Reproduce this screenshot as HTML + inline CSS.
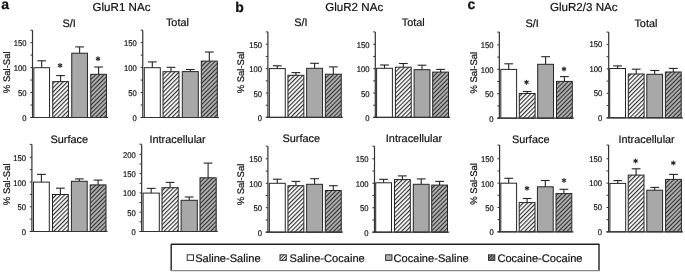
<!DOCTYPE html>
<html><head><meta charset="utf-8"><title>GluR NAc</title>
<style>
html,body{margin:0;padding:0;background:#fff;}
body{width:685px;height:273px;overflow:hidden;}
svg{display:block;filter:grayscale(1) blur(0.3px);}
text{font-family:"Liberation Sans",sans-serif;fill:#111;stroke:#111;stroke-width:0.2px;text-rendering:geometricPrecision;}
.tk{font-size:8.3px;text-anchor:end;}
.st{font-size:11px;text-anchor:middle;}
.pt{font-size:11.6px;}
.sub{font-size:10.9px;text-anchor:middle;}
.yl{font-size:9.5px;text-anchor:middle;}
.pl{font-size:14px;font-weight:bold;}
.lg{font-size:11.1px;}
</style></head>
<body>
<svg width="685" height="273" viewBox="0 0 685 273">
<defs>
<pattern id="h1" patternUnits="userSpaceOnUse" width="3" height="4" patternTransform="rotate(45)">
<rect width="3" height="4" fill="#fff"/><rect width="1.15" height="4" fill="#303030"/></pattern>
<pattern id="h2" patternUnits="userSpaceOnUse" width="3" height="4" patternTransform="rotate(45)">
<rect width="3" height="4" fill="#acacac"/><rect width="1.0" height="4" fill="#303030"/></pattern>
<pattern id="h1s" patternUnits="userSpaceOnUse" width="2.2" height="2.2" patternTransform="rotate(45)">
<rect width="2.2" height="2.2" fill="#fff"/><rect width="0.9" height="2.2" fill="#333"/></pattern>
<pattern id="h2s" patternUnits="userSpaceOnUse" width="2.2" height="2.2" patternTransform="rotate(45)">
<rect width="2.2" height="2.2" fill="#999"/><rect width="0.9" height="2.2" fill="#222"/></pattern>
</defs>
<rect width="685" height="273" fill="#fff"/>
<line x1="41.7" y1="67.7" x2="41.7" y2="60.8" stroke="#252525" stroke-width="1.1"/>
<line x1="37.3" y1="60.8" x2="46.1" y2="60.8" stroke="#252525" stroke-width="1.1"/>
<rect x="33.85" y="67.7" width="15.7" height="49.8" fill="#ffffff" stroke="#252525" stroke-width="1.0"/>
<line x1="60.6" y1="81.6" x2="60.6" y2="75.6" stroke="#252525" stroke-width="1.1"/>
<line x1="56.2" y1="75.6" x2="65" y2="75.6" stroke="#252525" stroke-width="1.1"/>
<rect x="52.75" y="81.6" width="15.7" height="35.9" fill="url(#h1)" stroke="#252525" stroke-width="1.0"/>
<line x1="79.6" y1="53.2" x2="79.6" y2="46.9" stroke="#252525" stroke-width="1.1"/>
<line x1="75.2" y1="46.9" x2="84" y2="46.9" stroke="#252525" stroke-width="1.1"/>
<rect x="71.75" y="53.2" width="15.7" height="64.3" fill="#a8a8a8" stroke="#252525" stroke-width="1.0"/>
<line x1="98.6" y1="74.3" x2="98.6" y2="67" stroke="#252525" stroke-width="1.1"/>
<line x1="94.2" y1="67" x2="103" y2="67" stroke="#252525" stroke-width="1.1"/>
<rect x="90.75" y="74.3" width="15.7" height="43.2" fill="url(#h2)" stroke="#252525" stroke-width="1.0"/>
<line x1="32.5" y1="30.2" x2="32.5" y2="118" stroke="#333" stroke-width="1.2"/>
<line x1="30.4" y1="117.5" x2="108.05" y2="117.5" stroke="#333" stroke-width="1.2"/>
<line x1="30.4" y1="117.5" x2="32.5" y2="117.5" stroke="#333" stroke-width="1"/>
<text transform="translate(26.6,121) scale(0.92,1)" class="tk">0</text>
<line x1="30.4" y1="105.02" x2="32.5" y2="105.02" stroke="#333" stroke-width="1"/>
<line x1="30.4" y1="92.53" x2="32.5" y2="92.53" stroke="#333" stroke-width="1"/>
<text transform="translate(26.6,96.03) scale(0.92,1)" class="tk">50</text>
<line x1="30.4" y1="80.05" x2="32.5" y2="80.05" stroke="#333" stroke-width="1"/>
<line x1="30.4" y1="67.57" x2="32.5" y2="67.57" stroke="#333" stroke-width="1"/>
<text transform="translate(26.6,71.07) scale(0.92,1)" class="tk">100</text>
<line x1="30.4" y1="55.09" x2="32.5" y2="55.09" stroke="#333" stroke-width="1"/>
<line x1="30.4" y1="42.6" x2="32.5" y2="42.6" stroke="#333" stroke-width="1"/>
<text transform="translate(26.6,46.1) scale(0.92,1)" class="tk">150</text>
<line x1="30.4" y1="30.2" x2="32.5" y2="30.2" stroke="#333" stroke-width="1"/>
<g transform="translate(60.10,65.50)" fill="#262626"><rect x="-0.525" y="-2.45" width="1.05" height="4.90" transform="rotate(0)"/><rect x="-0.525" y="-2.45" width="1.05" height="4.90" transform="rotate(60)"/><rect x="-0.525" y="-2.45" width="1.05" height="4.90" transform="rotate(-60)"/></g>
<g transform="translate(98.00,58.70)" fill="#262626"><rect x="-0.525" y="-2.45" width="1.05" height="4.90" transform="rotate(0)"/><rect x="-0.525" y="-2.45" width="1.05" height="4.90" transform="rotate(60)"/><rect x="-0.525" y="-2.45" width="1.05" height="4.90" transform="rotate(-60)"/></g>
<line x1="152.3" y1="67.7" x2="152.3" y2="61.9" stroke="#252525" stroke-width="1.1"/>
<line x1="147.9" y1="61.9" x2="156.7" y2="61.9" stroke="#252525" stroke-width="1.1"/>
<rect x="144.3" y="67.7" width="16" height="49.8" fill="#ffffff" stroke="#252525" stroke-width="1.0"/>
<line x1="171" y1="71.7" x2="171" y2="67.3" stroke="#252525" stroke-width="1.1"/>
<line x1="166.6" y1="67.3" x2="175.4" y2="67.3" stroke="#252525" stroke-width="1.1"/>
<rect x="163" y="71.7" width="16" height="45.8" fill="url(#h1)" stroke="#252525" stroke-width="1.0"/>
<line x1="190.3" y1="71.6" x2="190.3" y2="69.5" stroke="#252525" stroke-width="1.1"/>
<line x1="185.9" y1="69.5" x2="194.7" y2="69.5" stroke="#252525" stroke-width="1.1"/>
<rect x="182.3" y="71.6" width="16" height="45.9" fill="#a8a8a8" stroke="#252525" stroke-width="1.0"/>
<line x1="209.3" y1="61.1" x2="209.3" y2="52" stroke="#252525" stroke-width="1.1"/>
<line x1="204.9" y1="52" x2="213.7" y2="52" stroke="#252525" stroke-width="1.1"/>
<rect x="201.3" y="61.1" width="16" height="56.4" fill="url(#h2)" stroke="#252525" stroke-width="1.0"/>
<line x1="142.75" y1="30.2" x2="142.75" y2="118" stroke="#333" stroke-width="1.2"/>
<line x1="140.65" y1="117.5" x2="218.9" y2="117.5" stroke="#333" stroke-width="1.2"/>
<line x1="140.65" y1="117.5" x2="142.75" y2="117.5" stroke="#333" stroke-width="1"/>
<text transform="translate(136.85,121) scale(0.92,1)" class="tk">0</text>
<line x1="140.65" y1="105.02" x2="142.75" y2="105.02" stroke="#333" stroke-width="1"/>
<line x1="140.65" y1="92.53" x2="142.75" y2="92.53" stroke="#333" stroke-width="1"/>
<text transform="translate(136.85,96.03) scale(0.92,1)" class="tk">50</text>
<line x1="140.65" y1="80.05" x2="142.75" y2="80.05" stroke="#333" stroke-width="1"/>
<line x1="140.65" y1="67.57" x2="142.75" y2="67.57" stroke="#333" stroke-width="1"/>
<text transform="translate(136.85,71.07) scale(0.92,1)" class="tk">100</text>
<line x1="140.65" y1="55.09" x2="142.75" y2="55.09" stroke="#333" stroke-width="1"/>
<line x1="140.65" y1="42.6" x2="142.75" y2="42.6" stroke="#333" stroke-width="1"/>
<text transform="translate(136.85,46.1) scale(0.92,1)" class="tk">150</text>
<line x1="140.65" y1="30.2" x2="142.75" y2="30.2" stroke="#333" stroke-width="1"/>
<line x1="41.4" y1="182.1" x2="41.4" y2="174.4" stroke="#252525" stroke-width="1.1"/>
<line x1="37" y1="174.4" x2="45.8" y2="174.4" stroke="#252525" stroke-width="1.1"/>
<rect x="33.5" y="182.1" width="15.8" height="49.4" fill="#ffffff" stroke="#252525" stroke-width="1.0"/>
<line x1="60.4" y1="194.5" x2="60.4" y2="188.2" stroke="#252525" stroke-width="1.1"/>
<line x1="56" y1="188.2" x2="64.8" y2="188.2" stroke="#252525" stroke-width="1.1"/>
<rect x="52.5" y="194.5" width="15.8" height="37" fill="url(#h1)" stroke="#252525" stroke-width="1.0"/>
<line x1="79.3" y1="181.3" x2="79.3" y2="178.9" stroke="#252525" stroke-width="1.1"/>
<line x1="74.9" y1="178.9" x2="83.7" y2="178.9" stroke="#252525" stroke-width="1.1"/>
<rect x="71.4" y="181.3" width="15.8" height="50.2" fill="#a8a8a8" stroke="#252525" stroke-width="1.0"/>
<line x1="98.1" y1="184.9" x2="98.1" y2="180.1" stroke="#252525" stroke-width="1.1"/>
<line x1="93.7" y1="180.1" x2="102.5" y2="180.1" stroke="#252525" stroke-width="1.1"/>
<rect x="90.2" y="184.9" width="15.8" height="46.6" fill="url(#h2)" stroke="#252525" stroke-width="1.0"/>
<line x1="31.9" y1="144.4" x2="31.9" y2="232" stroke="#333" stroke-width="1.2"/>
<line x1="29.8" y1="231.5" x2="107.6" y2="231.5" stroke="#333" stroke-width="1.2"/>
<line x1="29.8" y1="231.5" x2="31.9" y2="231.5" stroke="#333" stroke-width="1"/>
<text transform="translate(26,235) scale(0.92,1)" class="tk">0</text>
<line x1="29.8" y1="219.13" x2="31.9" y2="219.13" stroke="#333" stroke-width="1"/>
<line x1="29.8" y1="206.76" x2="31.9" y2="206.76" stroke="#333" stroke-width="1"/>
<text transform="translate(26,210.26) scale(0.92,1)" class="tk">50</text>
<line x1="29.8" y1="194.4" x2="31.9" y2="194.4" stroke="#333" stroke-width="1"/>
<line x1="29.8" y1="182.03" x2="31.9" y2="182.03" stroke="#333" stroke-width="1"/>
<text transform="translate(26,185.53) scale(0.92,1)" class="tk">100</text>
<line x1="29.8" y1="169.66" x2="31.9" y2="169.66" stroke="#333" stroke-width="1"/>
<line x1="29.8" y1="157.3" x2="31.9" y2="157.3" stroke="#333" stroke-width="1"/>
<text transform="translate(26,160.8) scale(0.92,1)" class="tk">150</text>
<line x1="29.8" y1="144.4" x2="31.9" y2="144.4" stroke="#333" stroke-width="1"/>
<line x1="151.2" y1="193.1" x2="151.2" y2="188.4" stroke="#252525" stroke-width="1.1"/>
<line x1="146.8" y1="188.4" x2="155.6" y2="188.4" stroke="#252525" stroke-width="1.1"/>
<rect x="143.1" y="193.1" width="16.2" height="38.4" fill="#ffffff" stroke="#252525" stroke-width="1.0"/>
<line x1="170.1" y1="187.7" x2="170.1" y2="182.4" stroke="#252525" stroke-width="1.1"/>
<line x1="165.7" y1="182.4" x2="174.5" y2="182.4" stroke="#252525" stroke-width="1.1"/>
<rect x="162" y="187.7" width="16.2" height="43.8" fill="url(#h1)" stroke="#252525" stroke-width="1.0"/>
<line x1="189.2" y1="200.3" x2="189.2" y2="197" stroke="#252525" stroke-width="1.1"/>
<line x1="184.8" y1="197" x2="193.6" y2="197" stroke="#252525" stroke-width="1.1"/>
<rect x="181.1" y="200.3" width="16.2" height="31.2" fill="#a8a8a8" stroke="#252525" stroke-width="1.0"/>
<line x1="208.1" y1="177.8" x2="208.1" y2="163.1" stroke="#252525" stroke-width="1.1"/>
<line x1="203.7" y1="163.1" x2="212.5" y2="163.1" stroke="#252525" stroke-width="1.1"/>
<rect x="200" y="177.8" width="16.2" height="53.7" fill="url(#h2)" stroke="#252525" stroke-width="1.0"/>
<line x1="141.65" y1="144.2" x2="141.65" y2="232" stroke="#333" stroke-width="1.2"/>
<line x1="139.55" y1="231.5" x2="217.8" y2="231.5" stroke="#333" stroke-width="1.2"/>
<line x1="139.55" y1="231.5" x2="141.65" y2="231.5" stroke="#333" stroke-width="1"/>
<text transform="translate(135.75,235) scale(0.92,1)" class="tk">0</text>
<line x1="139.55" y1="221.85" x2="141.65" y2="221.85" stroke="#333" stroke-width="1"/>
<line x1="139.55" y1="212.2" x2="141.65" y2="212.2" stroke="#333" stroke-width="1"/>
<text transform="translate(135.75,215.7) scale(0.92,1)" class="tk">50</text>
<line x1="139.55" y1="202.55" x2="141.65" y2="202.55" stroke="#333" stroke-width="1"/>
<line x1="139.55" y1="192.9" x2="141.65" y2="192.9" stroke="#333" stroke-width="1"/>
<text transform="translate(135.75,196.4) scale(0.92,1)" class="tk">100</text>
<line x1="139.55" y1="183.25" x2="141.65" y2="183.25" stroke="#333" stroke-width="1"/>
<line x1="139.55" y1="173.6" x2="141.65" y2="173.6" stroke="#333" stroke-width="1"/>
<text transform="translate(135.75,177.1) scale(0.92,1)" class="tk">150</text>
<line x1="139.55" y1="163.95" x2="141.65" y2="163.95" stroke="#333" stroke-width="1"/>
<line x1="139.55" y1="154.3" x2="141.65" y2="154.3" stroke="#333" stroke-width="1"/>
<text transform="translate(135.75,157.8) scale(0.92,1)" class="tk">200</text>
<line x1="139.55" y1="144.2" x2="141.65" y2="144.2" stroke="#333" stroke-width="1"/>
<line x1="277.3" y1="68.6" x2="277.3" y2="65.8" stroke="#252525" stroke-width="1.1"/>
<line x1="272.9" y1="65.8" x2="281.7" y2="65.8" stroke="#252525" stroke-width="1.1"/>
<rect x="269.35" y="68.6" width="15.9" height="48.8" fill="#ffffff" stroke="#252525" stroke-width="1.0"/>
<line x1="295.9" y1="75.3" x2="295.9" y2="72.6" stroke="#252525" stroke-width="1.1"/>
<line x1="291.5" y1="72.6" x2="300.3" y2="72.6" stroke="#252525" stroke-width="1.1"/>
<rect x="287.95" y="75.3" width="15.9" height="42.1" fill="url(#h1)" stroke="#252525" stroke-width="1.0"/>
<line x1="314.6" y1="68.3" x2="314.6" y2="63.3" stroke="#252525" stroke-width="1.1"/>
<line x1="310.2" y1="63.3" x2="319" y2="63.3" stroke="#252525" stroke-width="1.1"/>
<rect x="306.65" y="68.3" width="15.9" height="49.1" fill="#a8a8a8" stroke="#252525" stroke-width="1.0"/>
<line x1="333.3" y1="74.2" x2="333.3" y2="66.9" stroke="#252525" stroke-width="1.1"/>
<line x1="328.9" y1="66.9" x2="337.7" y2="66.9" stroke="#252525" stroke-width="1.1"/>
<rect x="325.35" y="74.2" width="15.9" height="43.2" fill="url(#h2)" stroke="#252525" stroke-width="1.0"/>
<line x1="267.9" y1="31.9" x2="267.9" y2="117.9" stroke="#333" stroke-width="1.2"/>
<line x1="265.8" y1="117.4" x2="342.85" y2="117.4" stroke="#333" stroke-width="1.2"/>
<line x1="265.8" y1="117.4" x2="267.9" y2="117.4" stroke="#333" stroke-width="1"/>
<text transform="translate(262,120.9) scale(0.92,1)" class="tk">0</text>
<line x1="265.8" y1="105.21" x2="267.9" y2="105.21" stroke="#333" stroke-width="1"/>
<line x1="265.8" y1="93.02" x2="267.9" y2="93.02" stroke="#333" stroke-width="1"/>
<text transform="translate(262,96.52) scale(0.92,1)" class="tk">50</text>
<line x1="265.8" y1="80.82" x2="267.9" y2="80.82" stroke="#333" stroke-width="1"/>
<line x1="265.8" y1="68.63" x2="267.9" y2="68.63" stroke="#333" stroke-width="1"/>
<text transform="translate(262,72.13) scale(0.92,1)" class="tk">100</text>
<line x1="265.8" y1="56.44" x2="267.9" y2="56.44" stroke="#333" stroke-width="1"/>
<line x1="265.8" y1="44.25" x2="267.9" y2="44.25" stroke="#333" stroke-width="1"/>
<text transform="translate(262,47.75) scale(0.92,1)" class="tk">150</text>
<line x1="265.8" y1="31.9" x2="267.9" y2="31.9" stroke="#333" stroke-width="1"/>
<line x1="384.5" y1="68.3" x2="384.5" y2="65" stroke="#252525" stroke-width="1.1"/>
<line x1="380.1" y1="65" x2="388.9" y2="65" stroke="#252525" stroke-width="1.1"/>
<rect x="376.6" y="68.3" width="15.8" height="49.1" fill="#ffffff" stroke="#252525" stroke-width="1.0"/>
<line x1="403.3" y1="67.2" x2="403.3" y2="63.5" stroke="#252525" stroke-width="1.1"/>
<line x1="398.9" y1="63.5" x2="407.7" y2="63.5" stroke="#252525" stroke-width="1.1"/>
<rect x="395.4" y="67.2" width="15.8" height="50.2" fill="url(#h1)" stroke="#252525" stroke-width="1.0"/>
<line x1="422" y1="69.7" x2="422" y2="65.2" stroke="#252525" stroke-width="1.1"/>
<line x1="417.6" y1="65.2" x2="426.4" y2="65.2" stroke="#252525" stroke-width="1.1"/>
<rect x="414.1" y="69.7" width="15.8" height="47.7" fill="#a8a8a8" stroke="#252525" stroke-width="1.0"/>
<line x1="440.6" y1="72.1" x2="440.6" y2="69.4" stroke="#252525" stroke-width="1.1"/>
<line x1="436.2" y1="69.4" x2="445" y2="69.4" stroke="#252525" stroke-width="1.1"/>
<rect x="432.7" y="72.1" width="15.8" height="45.3" fill="url(#h2)" stroke="#252525" stroke-width="1.0"/>
<line x1="375.3" y1="31.9" x2="375.3" y2="117.9" stroke="#333" stroke-width="1.2"/>
<line x1="373.2" y1="117.4" x2="450.1" y2="117.4" stroke="#333" stroke-width="1.2"/>
<line x1="373.2" y1="117.4" x2="375.3" y2="117.4" stroke="#333" stroke-width="1"/>
<text transform="translate(369.4,120.9) scale(0.92,1)" class="tk">0</text>
<line x1="373.2" y1="105.21" x2="375.3" y2="105.21" stroke="#333" stroke-width="1"/>
<line x1="373.2" y1="93.02" x2="375.3" y2="93.02" stroke="#333" stroke-width="1"/>
<text transform="translate(369.4,96.52) scale(0.92,1)" class="tk">50</text>
<line x1="373.2" y1="80.82" x2="375.3" y2="80.82" stroke="#333" stroke-width="1"/>
<line x1="373.2" y1="68.63" x2="375.3" y2="68.63" stroke="#333" stroke-width="1"/>
<text transform="translate(369.4,72.13) scale(0.92,1)" class="tk">100</text>
<line x1="373.2" y1="56.44" x2="375.3" y2="56.44" stroke="#333" stroke-width="1"/>
<line x1="373.2" y1="44.25" x2="375.3" y2="44.25" stroke="#333" stroke-width="1"/>
<text transform="translate(369.4,47.75) scale(0.92,1)" class="tk">150</text>
<line x1="373.2" y1="31.9" x2="375.3" y2="31.9" stroke="#333" stroke-width="1"/>
<line x1="277.3" y1="183.3" x2="277.3" y2="179.2" stroke="#252525" stroke-width="1.1"/>
<line x1="272.9" y1="179.2" x2="281.7" y2="179.2" stroke="#252525" stroke-width="1.1"/>
<rect x="269.35" y="183.3" width="15.9" height="48.9" fill="#ffffff" stroke="#252525" stroke-width="1.0"/>
<line x1="295.9" y1="185.7" x2="295.9" y2="181.4" stroke="#252525" stroke-width="1.1"/>
<line x1="291.5" y1="181.4" x2="300.3" y2="181.4" stroke="#252525" stroke-width="1.1"/>
<rect x="287.95" y="185.7" width="15.9" height="46.5" fill="url(#h1)" stroke="#252525" stroke-width="1.0"/>
<line x1="314.6" y1="184.3" x2="314.6" y2="178.7" stroke="#252525" stroke-width="1.1"/>
<line x1="310.2" y1="178.7" x2="319" y2="178.7" stroke="#252525" stroke-width="1.1"/>
<rect x="306.65" y="184.3" width="15.9" height="47.9" fill="#a8a8a8" stroke="#252525" stroke-width="1.0"/>
<line x1="333.3" y1="190.5" x2="333.3" y2="185.7" stroke="#252525" stroke-width="1.1"/>
<line x1="328.9" y1="185.7" x2="337.7" y2="185.7" stroke="#252525" stroke-width="1.1"/>
<rect x="325.35" y="190.5" width="15.9" height="41.7" fill="url(#h2)" stroke="#252525" stroke-width="1.0"/>
<line x1="267.9" y1="146.2" x2="267.9" y2="232.7" stroke="#333" stroke-width="1.2"/>
<line x1="265.8" y1="232.2" x2="342.85" y2="232.2" stroke="#333" stroke-width="1.2"/>
<line x1="265.8" y1="232.2" x2="267.9" y2="232.2" stroke="#333" stroke-width="1"/>
<text transform="translate(262,235.7) scale(0.92,1)" class="tk">0</text>
<line x1="265.8" y1="219.97" x2="267.9" y2="219.97" stroke="#333" stroke-width="1"/>
<line x1="265.8" y1="207.73" x2="267.9" y2="207.73" stroke="#333" stroke-width="1"/>
<text transform="translate(262,211.23) scale(0.92,1)" class="tk">50</text>
<line x1="265.8" y1="195.5" x2="267.9" y2="195.5" stroke="#333" stroke-width="1"/>
<line x1="265.8" y1="183.27" x2="267.9" y2="183.27" stroke="#333" stroke-width="1"/>
<text transform="translate(262,186.77) scale(0.92,1)" class="tk">100</text>
<line x1="265.8" y1="171.04" x2="267.9" y2="171.04" stroke="#333" stroke-width="1"/>
<line x1="265.8" y1="158.81" x2="267.9" y2="158.81" stroke="#333" stroke-width="1"/>
<text transform="translate(262,162.31) scale(0.92,1)" class="tk">150</text>
<line x1="265.8" y1="146.2" x2="267.9" y2="146.2" stroke="#333" stroke-width="1"/>
<line x1="383.6" y1="182.8" x2="383.6" y2="179.3" stroke="#252525" stroke-width="1.1"/>
<line x1="379.2" y1="179.3" x2="388" y2="179.3" stroke="#252525" stroke-width="1.1"/>
<rect x="375.7" y="182.8" width="15.8" height="49.4" fill="#ffffff" stroke="#252525" stroke-width="1.0"/>
<line x1="402.4" y1="179.6" x2="402.4" y2="175.9" stroke="#252525" stroke-width="1.1"/>
<line x1="398" y1="175.9" x2="406.8" y2="175.9" stroke="#252525" stroke-width="1.1"/>
<rect x="394.5" y="179.6" width="15.8" height="52.6" fill="url(#h1)" stroke="#252525" stroke-width="1.0"/>
<line x1="421.2" y1="184.3" x2="421.2" y2="178.9" stroke="#252525" stroke-width="1.1"/>
<line x1="416.8" y1="178.9" x2="425.6" y2="178.9" stroke="#252525" stroke-width="1.1"/>
<rect x="413.3" y="184.3" width="15.8" height="47.9" fill="#a8a8a8" stroke="#252525" stroke-width="1.0"/>
<line x1="439.6" y1="185.1" x2="439.6" y2="181.4" stroke="#252525" stroke-width="1.1"/>
<line x1="435.2" y1="181.4" x2="444" y2="181.4" stroke="#252525" stroke-width="1.1"/>
<rect x="431.7" y="185.1" width="15.8" height="47.1" fill="url(#h2)" stroke="#252525" stroke-width="1.0"/>
<line x1="374.5" y1="146.2" x2="374.5" y2="232.7" stroke="#333" stroke-width="1.2"/>
<line x1="372.4" y1="232.2" x2="449.1" y2="232.2" stroke="#333" stroke-width="1.2"/>
<line x1="372.4" y1="232.2" x2="374.5" y2="232.2" stroke="#333" stroke-width="1"/>
<text transform="translate(368.6,235.7) scale(0.92,1)" class="tk">0</text>
<line x1="372.4" y1="219.97" x2="374.5" y2="219.97" stroke="#333" stroke-width="1"/>
<line x1="372.4" y1="207.73" x2="374.5" y2="207.73" stroke="#333" stroke-width="1"/>
<text transform="translate(368.6,211.23) scale(0.92,1)" class="tk">50</text>
<line x1="372.4" y1="195.5" x2="374.5" y2="195.5" stroke="#333" stroke-width="1"/>
<line x1="372.4" y1="183.27" x2="374.5" y2="183.27" stroke="#333" stroke-width="1"/>
<text transform="translate(368.6,186.77) scale(0.92,1)" class="tk">100</text>
<line x1="372.4" y1="171.04" x2="374.5" y2="171.04" stroke="#333" stroke-width="1"/>
<line x1="372.4" y1="158.81" x2="374.5" y2="158.81" stroke="#333" stroke-width="1"/>
<text transform="translate(368.6,162.31) scale(0.92,1)" class="tk">150</text>
<line x1="372.4" y1="146.2" x2="374.5" y2="146.2" stroke="#333" stroke-width="1"/>
<line x1="508.7" y1="69.4" x2="508.7" y2="63.8" stroke="#252525" stroke-width="1.1"/>
<line x1="504.3" y1="63.8" x2="513.1" y2="63.8" stroke="#252525" stroke-width="1.1"/>
<rect x="500.8" y="69.4" width="15.8" height="48.8" fill="#ffffff" stroke="#252525" stroke-width="1.0"/>
<line x1="527.2" y1="93.5" x2="527.2" y2="91.5" stroke="#252525" stroke-width="1.1"/>
<line x1="522.8" y1="91.5" x2="531.6" y2="91.5" stroke="#252525" stroke-width="1.1"/>
<rect x="519.3" y="93.5" width="15.8" height="24.7" fill="url(#h1)" stroke="#252525" stroke-width="1.0"/>
<line x1="545.6" y1="64.3" x2="545.6" y2="56.7" stroke="#252525" stroke-width="1.1"/>
<line x1="541.2" y1="56.7" x2="550" y2="56.7" stroke="#252525" stroke-width="1.1"/>
<rect x="537.7" y="64.3" width="15.8" height="53.9" fill="#a8a8a8" stroke="#252525" stroke-width="1.0"/>
<line x1="564.4" y1="81.4" x2="564.4" y2="76.6" stroke="#252525" stroke-width="1.1"/>
<line x1="560" y1="76.6" x2="568.8" y2="76.6" stroke="#252525" stroke-width="1.1"/>
<rect x="556.5" y="81.4" width="15.8" height="36.8" fill="url(#h2)" stroke="#252525" stroke-width="1.0"/>
<line x1="499.35" y1="32.1" x2="499.35" y2="118.7" stroke="#333" stroke-width="1.2"/>
<line x1="497.25" y1="118.2" x2="573.9" y2="118.2" stroke="#333" stroke-width="1.2"/>
<line x1="497.25" y1="118.2" x2="499.35" y2="118.2" stroke="#333" stroke-width="1"/>
<text transform="translate(493.45,121.7) scale(0.92,1)" class="tk">0</text>
<line x1="497.25" y1="105.98" x2="499.35" y2="105.98" stroke="#333" stroke-width="1"/>
<line x1="497.25" y1="93.75" x2="499.35" y2="93.75" stroke="#333" stroke-width="1"/>
<text transform="translate(493.45,97.25) scale(0.92,1)" class="tk">50</text>
<line x1="497.25" y1="81.53" x2="499.35" y2="81.53" stroke="#333" stroke-width="1"/>
<line x1="497.25" y1="69.3" x2="499.35" y2="69.3" stroke="#333" stroke-width="1"/>
<text transform="translate(493.45,72.8) scale(0.92,1)" class="tk">100</text>
<line x1="497.25" y1="57.08" x2="499.35" y2="57.08" stroke="#333" stroke-width="1"/>
<line x1="497.25" y1="44.85" x2="499.35" y2="44.85" stroke="#333" stroke-width="1"/>
<text transform="translate(493.45,48.35) scale(0.92,1)" class="tk">150</text>
<line x1="497.25" y1="32.1" x2="499.35" y2="32.1" stroke="#333" stroke-width="1"/>
<g transform="translate(526.50,82.30)" fill="#262626"><rect x="-0.525" y="-2.45" width="1.05" height="4.90" transform="rotate(0)"/><rect x="-0.525" y="-2.45" width="1.05" height="4.90" transform="rotate(60)"/><rect x="-0.525" y="-2.45" width="1.05" height="4.90" transform="rotate(-60)"/></g>
<g transform="translate(564.00,69.00)" fill="#262626"><rect x="-0.525" y="-2.45" width="1.05" height="4.90" transform="rotate(0)"/><rect x="-0.525" y="-2.45" width="1.05" height="4.90" transform="rotate(60)"/><rect x="-0.525" y="-2.45" width="1.05" height="4.90" transform="rotate(-60)"/></g>
<line x1="617.6" y1="68.5" x2="617.6" y2="65.9" stroke="#252525" stroke-width="1.1"/>
<line x1="613.2" y1="65.9" x2="622" y2="65.9" stroke="#252525" stroke-width="1.1"/>
<rect x="609.7" y="68.5" width="15.8" height="49.3" fill="#ffffff" stroke="#252525" stroke-width="1.0"/>
<line x1="636.2" y1="74" x2="636.2" y2="69.2" stroke="#252525" stroke-width="1.1"/>
<line x1="631.8" y1="69.2" x2="640.6" y2="69.2" stroke="#252525" stroke-width="1.1"/>
<rect x="628.3" y="74" width="15.8" height="43.8" fill="url(#h1)" stroke="#252525" stroke-width="1.0"/>
<line x1="654.7" y1="74.3" x2="654.7" y2="70.5" stroke="#252525" stroke-width="1.1"/>
<line x1="650.3" y1="70.5" x2="659.1" y2="70.5" stroke="#252525" stroke-width="1.1"/>
<rect x="646.8" y="74.3" width="15.8" height="43.5" fill="#a8a8a8" stroke="#252525" stroke-width="1.0"/>
<line x1="673.3" y1="72" x2="673.3" y2="68.4" stroke="#252525" stroke-width="1.1"/>
<line x1="668.9" y1="68.4" x2="677.7" y2="68.4" stroke="#252525" stroke-width="1.1"/>
<rect x="665.4" y="72" width="15.8" height="45.8" fill="url(#h2)" stroke="#252525" stroke-width="1.0"/>
<line x1="608.7" y1="32.1" x2="608.7" y2="118.3" stroke="#333" stroke-width="1.2"/>
<line x1="606.6" y1="117.8" x2="682.8" y2="117.8" stroke="#333" stroke-width="1.2"/>
<line x1="606.6" y1="117.8" x2="608.7" y2="117.8" stroke="#333" stroke-width="1"/>
<text transform="translate(602.2,120.8) scale(0.92,1)" class="tk">0</text>
<line x1="606.6" y1="105.58" x2="608.7" y2="105.58" stroke="#333" stroke-width="1"/>
<line x1="606.6" y1="93.35" x2="608.7" y2="93.35" stroke="#333" stroke-width="1"/>
<text transform="translate(602.2,96.35) scale(0.92,1)" class="tk">50</text>
<line x1="606.6" y1="81.12" x2="608.7" y2="81.12" stroke="#333" stroke-width="1"/>
<line x1="606.6" y1="68.9" x2="608.7" y2="68.9" stroke="#333" stroke-width="1"/>
<text transform="translate(602.2,71.9) scale(0.92,1)" class="tk">100</text>
<line x1="606.6" y1="56.67" x2="608.7" y2="56.67" stroke="#333" stroke-width="1"/>
<line x1="606.6" y1="44.45" x2="608.7" y2="44.45" stroke="#333" stroke-width="1"/>
<text transform="translate(602.2,47.45) scale(0.92,1)" class="tk">150</text>
<line x1="606.6" y1="32.1" x2="608.7" y2="32.1" stroke="#333" stroke-width="1"/>
<line x1="508.7" y1="183.2" x2="508.7" y2="178.3" stroke="#252525" stroke-width="1.1"/>
<line x1="504.3" y1="178.3" x2="513.1" y2="178.3" stroke="#252525" stroke-width="1.1"/>
<rect x="500.8" y="183.2" width="15.8" height="48.6" fill="#ffffff" stroke="#252525" stroke-width="1.0"/>
<line x1="527.1" y1="202.6" x2="527.1" y2="198.5" stroke="#252525" stroke-width="1.1"/>
<line x1="522.7" y1="198.5" x2="531.5" y2="198.5" stroke="#252525" stroke-width="1.1"/>
<rect x="519.2" y="202.6" width="15.8" height="29.2" fill="url(#h1)" stroke="#252525" stroke-width="1.0"/>
<line x1="545.3" y1="186.8" x2="545.3" y2="180.5" stroke="#252525" stroke-width="1.1"/>
<line x1="540.9" y1="180.5" x2="549.7" y2="180.5" stroke="#252525" stroke-width="1.1"/>
<rect x="537.4" y="186.8" width="15.8" height="45" fill="#a8a8a8" stroke="#252525" stroke-width="1.0"/>
<line x1="563.9" y1="193.6" x2="563.9" y2="189.3" stroke="#252525" stroke-width="1.1"/>
<line x1="559.5" y1="189.3" x2="568.3" y2="189.3" stroke="#252525" stroke-width="1.1"/>
<rect x="556" y="193.6" width="15.8" height="38.2" fill="url(#h2)" stroke="#252525" stroke-width="1.0"/>
<line x1="499.6" y1="145.1" x2="499.6" y2="232.3" stroke="#333" stroke-width="1.2"/>
<line x1="497.5" y1="231.8" x2="573.4" y2="231.8" stroke="#333" stroke-width="1.2"/>
<line x1="497.5" y1="231.8" x2="499.6" y2="231.8" stroke="#333" stroke-width="1"/>
<text transform="translate(493.7,235.3) scale(0.92,1)" class="tk">0</text>
<line x1="497.5" y1="219.63" x2="499.6" y2="219.63" stroke="#333" stroke-width="1"/>
<line x1="497.5" y1="207.47" x2="499.6" y2="207.47" stroke="#333" stroke-width="1"/>
<text transform="translate(493.7,210.97) scale(0.92,1)" class="tk">50</text>
<line x1="497.5" y1="195.3" x2="499.6" y2="195.3" stroke="#333" stroke-width="1"/>
<line x1="497.5" y1="183.13" x2="499.6" y2="183.13" stroke="#333" stroke-width="1"/>
<text transform="translate(493.7,186.63) scale(0.92,1)" class="tk">100</text>
<line x1="497.5" y1="170.96" x2="499.6" y2="170.96" stroke="#333" stroke-width="1"/>
<line x1="497.5" y1="158.8" x2="499.6" y2="158.8" stroke="#333" stroke-width="1"/>
<text transform="translate(493.7,162.3) scale(0.92,1)" class="tk">150</text>
<line x1="497.5" y1="145.1" x2="499.6" y2="145.1" stroke="#333" stroke-width="1"/>
<g transform="translate(527.00,188.30)" fill="#262626"><rect x="-0.525" y="-2.45" width="1.05" height="4.90" transform="rotate(0)"/><rect x="-0.525" y="-2.45" width="1.05" height="4.90" transform="rotate(60)"/><rect x="-0.525" y="-2.45" width="1.05" height="4.90" transform="rotate(-60)"/></g>
<g transform="translate(564.00,180.40)" fill="#262626"><rect x="-0.525" y="-2.45" width="1.05" height="4.90" transform="rotate(0)"/><rect x="-0.525" y="-2.45" width="1.05" height="4.90" transform="rotate(60)"/><rect x="-0.525" y="-2.45" width="1.05" height="4.90" transform="rotate(-60)"/></g>
<line x1="617.8" y1="183.4" x2="617.8" y2="180.6" stroke="#252525" stroke-width="1.1"/>
<line x1="613.4" y1="180.6" x2="622.2" y2="180.6" stroke="#252525" stroke-width="1.1"/>
<rect x="609.9" y="183.4" width="15.8" height="48.4" fill="#ffffff" stroke="#252525" stroke-width="1.0"/>
<line x1="636.1" y1="175.1" x2="636.1" y2="168.8" stroke="#252525" stroke-width="1.1"/>
<line x1="631.7" y1="168.8" x2="640.5" y2="168.8" stroke="#252525" stroke-width="1.1"/>
<rect x="628.2" y="175.1" width="15.8" height="56.7" fill="url(#h1)" stroke="#252525" stroke-width="1.0"/>
<line x1="654.7" y1="190.2" x2="654.7" y2="187.4" stroke="#252525" stroke-width="1.1"/>
<line x1="650.3" y1="187.4" x2="659.1" y2="187.4" stroke="#252525" stroke-width="1.1"/>
<rect x="646.8" y="190.2" width="15.8" height="41.6" fill="#a8a8a8" stroke="#252525" stroke-width="1.0"/>
<line x1="673.5" y1="179.4" x2="673.5" y2="174.4" stroke="#252525" stroke-width="1.1"/>
<line x1="669.1" y1="174.4" x2="677.9" y2="174.4" stroke="#252525" stroke-width="1.1"/>
<rect x="665.6" y="179.4" width="15.8" height="52.4" fill="url(#h2)" stroke="#252525" stroke-width="1.0"/>
<line x1="608.6" y1="145.1" x2="608.6" y2="232.3" stroke="#333" stroke-width="1.2"/>
<line x1="606.5" y1="231.8" x2="683" y2="231.8" stroke="#333" stroke-width="1.2"/>
<line x1="606.5" y1="231.8" x2="608.6" y2="231.8" stroke="#333" stroke-width="1"/>
<text transform="translate(601.9,234.7) scale(0.92,1)" class="tk">0</text>
<line x1="606.5" y1="219.63" x2="608.6" y2="219.63" stroke="#333" stroke-width="1"/>
<line x1="606.5" y1="207.47" x2="608.6" y2="207.47" stroke="#333" stroke-width="1"/>
<text transform="translate(601.9,210.37) scale(0.92,1)" class="tk">50</text>
<line x1="606.5" y1="195.3" x2="608.6" y2="195.3" stroke="#333" stroke-width="1"/>
<line x1="606.5" y1="183.13" x2="608.6" y2="183.13" stroke="#333" stroke-width="1"/>
<text transform="translate(601.9,186.03) scale(0.92,1)" class="tk">100</text>
<line x1="606.5" y1="170.96" x2="608.6" y2="170.96" stroke="#333" stroke-width="1"/>
<line x1="606.5" y1="158.8" x2="608.6" y2="158.8" stroke="#333" stroke-width="1"/>
<text transform="translate(601.9,161.7) scale(0.92,1)" class="tk">150</text>
<line x1="606.5" y1="145.1" x2="608.6" y2="145.1" stroke="#333" stroke-width="1"/>
<g transform="translate(635.60,161.00)" fill="#262626"><rect x="-0.525" y="-2.45" width="1.05" height="4.90" transform="rotate(0)"/><rect x="-0.525" y="-2.45" width="1.05" height="4.90" transform="rotate(60)"/><rect x="-0.525" y="-2.45" width="1.05" height="4.90" transform="rotate(-60)"/></g>
<g transform="translate(673.30,163.00)" fill="#262626"><rect x="-0.525" y="-2.45" width="1.05" height="4.90" transform="rotate(0)"/><rect x="-0.525" y="-2.45" width="1.05" height="4.90" transform="rotate(60)"/><rect x="-0.525" y="-2.45" width="1.05" height="4.90" transform="rotate(-60)"/></g>
<text x="92.5" y="10.5" class="pt">GluR1 NAc</text>
<text x="325.2" y="10.5" class="pt">GluR2 NAc</text>
<text x="549.9" y="10.9" class="pt">GluR2/3 NAc</text>
<text x="69.2" y="26.9" class="sub">S/I</text>
<text x="177.4" y="26.4" class="sub">Total</text>
<text x="69.3" y="142.8" class="sub">Surface</text>
<text x="177.6" y="143" class="sub">Intracellular</text>
<text x="301" y="26.4" class="sub">S/I</text>
<text x="413.3" y="26.4" class="sub">Total</text>
<text x="301.3" y="142.2" class="sub">Surface</text>
<text x="414" y="142.2" class="sub">Intracellular</text>
<text x="532.2" y="27.3" class="sub">S/I</text>
<text x="645.9" y="26.9" class="sub">Total</text>
<text x="530.7" y="142.5" class="sub">Surface</text>
<text x="646.6" y="142.5" class="sub">Intracellular</text>
<text transform="translate(9.7,72.3) rotate(-90)" class="yl">% Sal-Sal</text>
<text transform="translate(9.7,184.3) rotate(-90)" class="yl">% Sal-Sal</text>
<text transform="translate(244,72.5) rotate(-90)" class="yl">% Sal-Sal</text>
<text transform="translate(244.2,184.5) rotate(-90)" class="yl">% Sal-Sal</text>
<text transform="translate(476.9,72.7) rotate(-90)" class="yl">% Sal-Sal</text>
<text transform="translate(476.9,183.9) rotate(-90)" class="yl">% Sal-Sal</text>
<text x="1.2" y="9.2" class="pl">a</text>
<text x="235.2" y="11.6" class="pl">b</text>
<text x="467.5" y="9.4" class="pl">c</text>
<rect x="171.5" y="244.5" width="427.5" height="26" fill="#fff" stroke="none"/>
<line x1="171" y1="244.3" x2="599.3" y2="244.3" stroke="#222" stroke-width="1.4"/>
<line x1="171.2" y1="244" x2="171.2" y2="271" stroke="#222" stroke-width="1.4"/>
<line x1="599" y1="244" x2="599" y2="271" stroke="#222" stroke-width="1.4"/>
<line x1="171" y1="270.6" x2="599.5" y2="270.6" stroke="#888" stroke-width="1.4"/>
<rect x="187.2" y="254.8" width="6.3" height="5.6" fill="#fff" stroke="#333" stroke-width="1"/>
<text x="195.2" y="261.6" class="lg">Saline-Saline</text>
<rect x="280" y="254.8" width="6.3" height="5.6" fill="url(#h1s)" stroke="#333" stroke-width="1"/>
<text x="289.5" y="261.6" class="lg">Saline-Cocaine</text>
<rect x="385.6" y="254.8" width="6.3" height="5.6" fill="#b0b0b0" stroke="#333" stroke-width="1"/>
<text x="393.5" y="261.6" class="lg">Cocaine-Saline</text>
<rect x="488.5" y="254.8" width="6.3" height="5.6" fill="url(#h2s)" stroke="#333" stroke-width="1"/>
<text x="497.4" y="261.6" class="lg">Cocaine-Cocaine</text>
</svg>
</body></html>
